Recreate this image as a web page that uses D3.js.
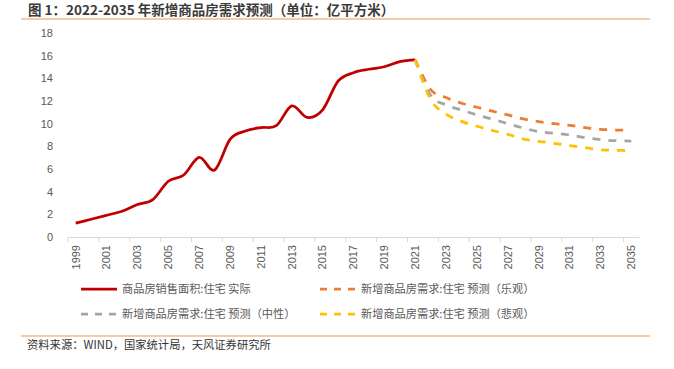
<!DOCTYPE html>
<html>
<head>
<meta charset="utf-8">
<script src="https://cdn.jsdelivr.net/npm/d3@7"></script>
<style>
  body { margin: 0; background: #fff; }
  text { font-family: "Liberation Sans", "Noto Sans CJK SC", sans-serif; }
  .cjk { font-family: "Noto Sans CJK SC", "Liberation Sans", sans-serif; }
</style>
</head>
<body>
<script>
const width = 674;
const height = 369;

// categories
const years = [
  1999, 2000, 2001, 2002, 2003, 2004, 2005, 2006, 2007, 2008, 2009, 2010,
  2011, 2012, 2013, 2014, 2015, 2016, 2017, 2018, 2019, 2020, 2021, 2022,
  2023, 2024, 2025, 2026, 2027, 2028, 2029, 2030, 2031, 2032, 2033, 2034, 2035,
];
const labelYears = years.filter((y) => y % 2 === 1);
const yTicks = [0, 2, 4, 6, 8, 10, 12, 14, 16, 18];

// actual sales 1999-2021
const actualYears = years.slice(0, 23);
const actual = [
  1.22, 1.57, 1.92, 2.27, 2.87, 3.3, 4.92, 5.47, 7.02, 5.91, 8.62, 9.36,
  9.66, 9.82, 11.57, 10.55, 11.22, 13.75, 14.5, 14.8, 15.02, 15.47, 15.63,
];

// forecasts 2021-2035
const forecastYears = years.slice(22);
const optimistic = [15.63, 13.0, 12.3, 11.8, 11.45, 11.1, 10.77, 10.42, 10.18, 10.0, 9.85, 9.65, 9.5, 9.44, 9.41];
const neutral = [15.63, 12.5, 11.65, 11.2, 10.77, 10.4, 10.0, 9.62, 9.3, 9.15, 9.0, 8.77, 8.59, 8.5, 8.47];
const pessimistic = [15.63, 12.1, 10.85, 10.2, 9.77, 9.4, 9.06, 8.65, 8.44, 8.27, 8.06, 7.88, 7.7, 7.65, 7.62];

const series = [
  { name: "商品房销售面积:住宅 实际", xs: actualYears, values: actual, colour: "#c00000", dash: null },
  { name: "新增商品房需求:住宅 预测（乐观）", xs: forecastYears, values: optimistic, colour: "#ed7d31", dash: "8,8" },
  { name: "新增商品房需求:住宅 预测（中性）", xs: forecastYears, values: neutral, colour: "#a5a5a5", dash: "8,8" },
  { name: "新增商品房需求:住宅 预测（悲观）", xs: forecastYears, values: pessimistic, colour: "#ffc000", dash: "8,8" },
];

const svg = d3
  .select("body")
  .append("svg")
  .attr("width", width)
  .attr("height", height)
  .style("display", "block")
  .style("background", "#fff");

// title + rules
svg
  .append("text")
  .attr("class", "cjk")
  .attr("x", 28)
  .attr("y", 15)
  .attr("font-size", 13.5)
  .attr("font-weight", "bold")
  .attr("fill", "#3a3a3a")
  .text("图 1：2022-2035 年新增商品房需求预测（单位：亿平方米）");

svg.append("line").attr("x1", 21).attr("x2", 650).attr("y1", 19).attr("y2", 19)
  .attr("stroke", "#f6b988").attr("stroke-width", 1.5);
svg.append("line").attr("x1", 21).attr("x2", 650).attr("y1", 336).attr("y2", 336)
  .attr("stroke", "#f6b988").attr("stroke-width", 1.5);

svg
  .append("text")
  .attr("class", "cjk")
  .attr("x", 27)
  .attr("y", 349)
  .attr("font-size", 11.3)
  .attr("fill", "#333")
  .text("资料来源：WIND，国家统计局，天风证券研究所");

// scales
const xScale = d3.scaleBand().domain(years).range([68, 639]);
const yScale = d3.scaleLinear().domain([0, 18]).range([237, 33]);
const xc = (yr) => xScale(yr) + xScale.bandwidth() / 2;

// y labels (no axis line)
svg
  .append("g")
  .selectAll("text")
  .data(yTicks)
  .enter()
  .append("text")
  .attr("x", 53)
  .attr("y", (d) => yScale(d))
  .attr("dy", "0.35em")
  .attr("text-anchor", "end")
  .attr("font-size", 11)
  .attr("fill", "#595959")
  .text((d) => d);

// x axis
const xAxis = svg
  .append("g")
  .attr("transform", `translate(0, ${yScale(0)})`)
  .call(d3.axisBottom(xScale).tickValues(labelYears).tickSize(0));

xAxis.select(".domain").attr("stroke", "#d9d9d9");
xAxis
  .selectAll("text")
  .attr("transform", "rotate(-90)")
  .attr("text-anchor", "end")
  .attr("x", -8)
  .attr("y", 0)
  .attr("dy", "0.35em")
  .attr("font-size", 11)
  .attr("font-family", "Liberation Sans")
  .attr("fill", "#595959");

// tick marks sit on the band edges, every second category
xAxis
  .selectAll(".edge")
  .data(years.filter((y, i) => i % 2 === 0))
  .enter()
  .append("line")
  .attr("x1", (d) => xScale(d))
  .attr("x2", (d) => xScale(d))
  .attr("y1", 0)
  .attr("y2", 5)
  .attr("stroke", "#d9d9d9");

// lines
const line = d3
  .line()
  .x((d) => xc(d[0]))
  .y((d) => yScale(d[1]))
  .curve(d3.curveCardinal.tension(0));

series.forEach((s) => {
  svg
    .append("path")
    .datum(s.xs.map((x, i) => [x, s.values[i]]))
    .attr("d", line)
    .attr("fill", "none")
    .attr("stroke", s.colour)
    .attr("stroke-width", 2.75)
    .attr("stroke-dasharray", s.dash);
});

// legend
const legendPos = [
  [81, 289],
  [320, 289],
  [81, 314],
  [320, 314],
];

series.forEach((s, i) => {
  const [lx, ly] = legendPos[i];
  const g = svg.append("g").attr("transform", `translate(${lx}, ${ly})`);
  g.append("line")
    .attr("x1", 0)
    .attr("x2", 36)
    .attr("stroke", s.colour)
    .attr("stroke-width", 2.75)
    .attr("stroke-dasharray", s.dash ? "7,7" : null);
  g.append("text")
    .attr("class", "cjk")
    .attr("x", 41)
    .attr("dy", "0.35em")
    .attr("font-size", 11.2)
    .attr("fill", "#595959")
    .text(s.name);
});
</script>
</body>
</html>
